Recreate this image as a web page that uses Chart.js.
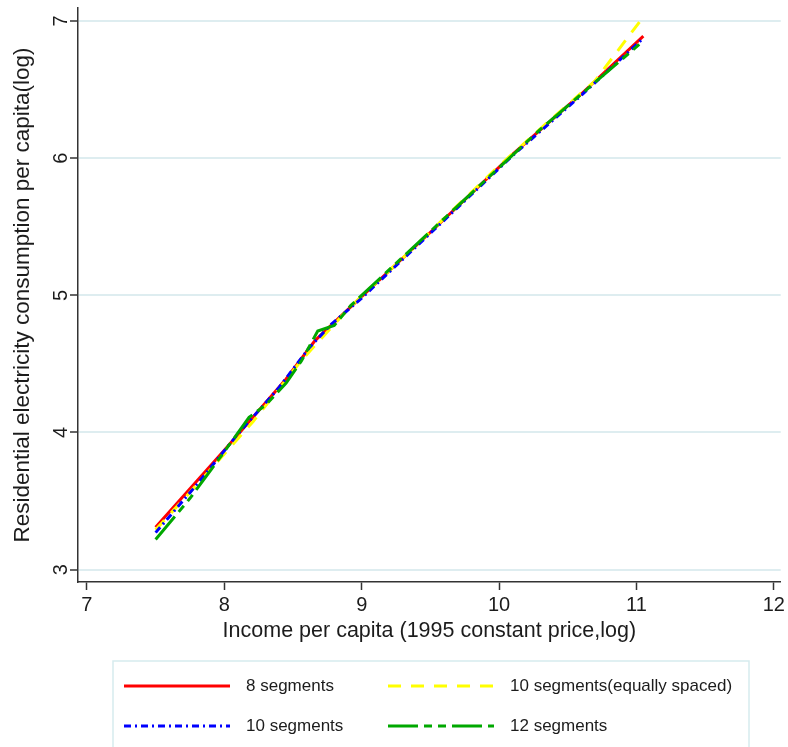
<!DOCTYPE html>
<html>
<head>
<meta charset="utf-8">
<title>Income vs residential electricity consumption</title>
<script src="https://cdn.jsdelivr.net/npm/chart.js@4.4.1/dist/chart.umd.min.js"></script>
<style>
  html, body { margin: 0; padding: 0; background: #fff; }
</style>
</head>
<body>
<canvas id="fitChart" width="788" height="747"></canvas>
<script>
// ---------- data (log income -> fitted log consumption at each knot) ----------
const xTicks = [7, 8, 9, 10, 11, 12];
const yTicks = [3, 4, 5, 6, 7];
const seriesNames = ["8 segments", "10 segments(equally spaced)", "10 segments", "12 segments"];

const seg8X = [7.50, 8.00, 8.45, 8.66, 8.86, 9.50, 10.10, 10.60, 11.05];
const seg8Y = [3.31, 3.87, 4.39, 4.67, 4.86, 5.46, 6.03, 6.47, 6.89];

const seg10eqX = [7.500, 7.855, 8.210, 8.565, 8.920, 9.275, 9.630, 9.985, 10.340, 10.695, 11.050];
const seg10eqY = [3.29, 3.68, 4.08, 4.53, 4.92, 5.25, 5.59, 5.93, 6.25, 6.56, 7.03];

const seg10X = [7.50, 7.80, 8.10, 8.40, 8.62, 8.78, 9.00, 9.55, 10.10, 10.60, 11.05];
const seg10Y = [3.27, 3.62, 3.99, 4.33, 4.62, 4.79, 4.98, 5.50, 6.02, 6.46, 6.875];

const seg12X = [7.50, 7.75, 8.00, 8.18, 8.30, 8.45, 8.56, 8.68, 8.80, 8.92, 9.60, 10.30, 11.05];
const seg12Y = [3.22, 3.52, 3.86, 4.11, 4.20, 4.36, 4.52, 4.74, 4.78, 4.925, 5.56, 6.21, 6.855];

const xTitle = "Income per capita (1995 constant price,log)";
const yTitle = "Residential electricity consumption per capita(log)";

const FONT = `"Liberation Sans", Arial, Helvetica, sans-serif`;
const TEXT = "#1c1c1c";
const AXIS = "#333";

const toPoints = (xs, ys) => xs.map((x, i) => ({ x, y: ys[i] }));

const lineStyle = {
  showLine: true,
  pointRadius: 0,
  borderWidth: 3,
  tension: 0,
  fill: false,
};

// rotated y tick labels + two-column legend box
const extras = {
  id: "extras",
  afterDraw(chart) {
    const { ctx } = chart;
    const y = chart.scales.y;
    ctx.save();
    ctx.fillStyle = TEXT;
    ctx.font = `20px ${FONT}`;
    ctx.textAlign = "center";
    ctx.textBaseline = "middle";
    yTicks.forEach((v) => {
      ctx.save();
      ctx.translate(61, y.getPixelForValue(v));
      ctx.rotate(-Math.PI / 2);
      ctx.fillText(String(v), 0, 0);
      ctx.restore();
    });

    // legend frame
    ctx.strokeStyle = "#d6ebee";
    ctx.lineWidth = 1.5;
    ctx.strokeRect(113, 661, 636, 100);

    const slots = [
      { ds: 0, x: 124, y: 686 },
      { ds: 1, x: 388, y: 686 },
      { ds: 2, x: 124, y: 726 },
      { ds: 3, x: 388, y: 726 },
    ];
    ctx.font = `17px ${FONT}`;
    ctx.textAlign = "left";
    slots.forEach((s) => {
      const ds = chart.data.datasets[s.ds];
      ctx.save();
      ctx.strokeStyle = ds.borderColor;
      ctx.lineWidth = 3;
      ctx.setLineDash(ds.borderDash || []);
      ctx.beginPath();
      ctx.moveTo(s.x, s.y);
      ctx.lineTo(s.x + 106, s.y);
      ctx.stroke();
      ctx.restore();
      ctx.fillStyle = TEXT;
      ctx.fillText(ds.label, s.x + 122, s.y);
    });
    ctx.restore();
  },
};

const ctx = document.getElementById("fitChart").getContext("2d");
const fitChart = new Chart(ctx, {
  type: "scatter",
  data: {
    datasets: [
      { ...lineStyle, label: seriesNames[0], data: toPoints(seg8X, seg8Y), borderColor: "#ff0000", order: 4 },
      { ...lineStyle, label: seriesNames[1], data: toPoints(seg10eqX, seg10eqY), borderColor: "#ffff00", borderDash: [13, 10], order: 3 },
      { ...lineStyle, label: seriesNames[2], data: toPoints(seg10X, seg10Y), borderColor: "#0000ff", borderDash: [7, 4, 2, 4], order: 2 },
      { ...lineStyle, label: seriesNames[3], data: toPoints(seg12X, seg12Y), borderColor: "#00a800", borderDash: [30, 6, 8, 6, 8, 6], order: 1 },
    ],
  },
  options: {
    responsive: false,
    animation: false,
    layout: { padding: { top: 8, right: 3, bottom: 95, left: 0 } },
    plugins: {
      legend: { display: false },
      tooltip: { enabled: false },
    },
    scales: {
      x: {
        type: "linear",
        min: 6.935,
        max: 12.05,
        afterBuildTicks: (s) => { s.ticks = xTicks.map((v) => ({ value: v })); },
        afterFit: (s) => { s.height = 70; },
        grid: { drawOnChartArea: false, tickLength: 8, tickColor: AXIS, tickWidth: 1.5 },
        border: { display: true, color: AXIS, width: 1.5 },
        ticks: { color: TEXT, font: { size: 20, family: FONT }, padding: 3, maxRotation: 0 },
        title: { display: true, text: xTitle, color: TEXT, font: { size: 21.5, family: FONT }, padding: { top: 0, bottom: 8 } },
      },
      y: {
        type: "linear",
        min: 2.91,
        max: 7.095,
        afterBuildTicks: (s) => { s.ticks = yTicks.map((v) => ({ value: v })); },
        afterFit: (s) => { s.width = 78; },
        grid: { color: "#deedf0", lineWidth: 2, tickLength: 8, tickColor: AXIS, tickWidth: 1.5 },
        border: { display: true, color: AXIS, width: 1.5 },
        ticks: { display: false },
        title: { display: true, text: yTitle, color: TEXT, font: { size: 22.5, family: FONT }, padding: { top: 9, bottom: 0 } },
      },
    },
  },
  plugins: [extras],
});
</script>
</body>
</html>
